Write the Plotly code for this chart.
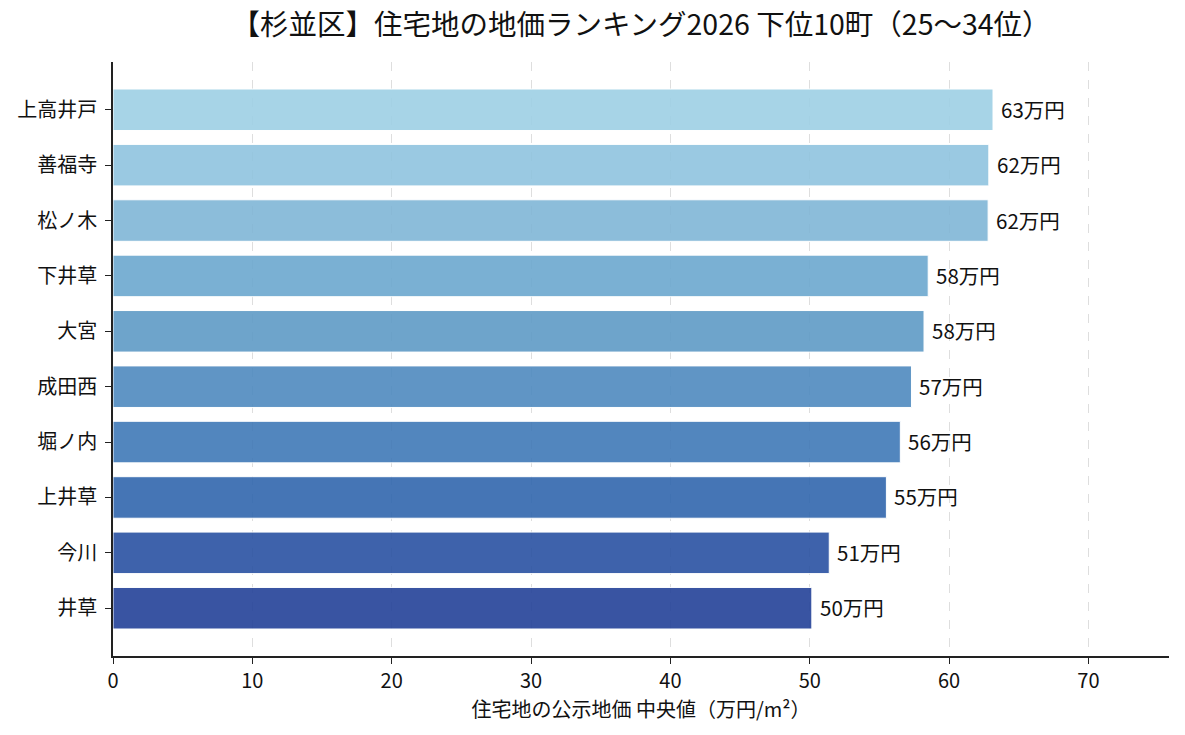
import plotly.graph_objects as go

towns = ["上高井戸", "善福寺", "松ノ木", "下井草", "大宮", "成田西", "堀ノ内", "上井草", "今川", "井草"]
values = [63.15, 62.85, 62.8, 58.5, 58.2, 57.3, 56.5, 55.5, 51.4, 50.15]
labels = ["63万円", "62万円", "62万円", "58万円", "58万円", "57万円", "56万円", "55万円", "51万円", "50万円"]
x_ticks = [0, 10, 20, 30, 40, 50, 60, 70]
bar_colors = ["#9ed0e5", "#90c4df", "#80b6d6", "#6ca8cf", "#5f9bc6",
              "#4f8abf", "#4079b7", "#3167ae", "#2a52a2", "#244299"]

FONT = "Noto Sans CJK JP"
title = "【杉並区】住宅地の地価ランキング2026 下位10町（25～34位）"
x_title = "住宅地の公示地価 中央値（万円/m²）"

fig = go.Figure()
fig.add_trace(go.Bar(
    x=values, y=towns, orientation="h", width=0.75,
    marker=dict(color=bar_colors, opacity=0.9, line=dict(color="white", width=1)),
    hoverinfo="x+y", showlegend=False,
))

for v, t, lab in zip(values, towns, labels):
    fig.add_annotation(x=v, y=t, text=lab, showarrow=False, xanchor="left",
                       yanchor="middle", xshift=6, yshift=1,
                       font=dict(family=FONT, size=20.5, color="#111111"))

n = len(towns)
pad = (n - 1 + 0.75) * 0.05
fig.update_layout(
    width=1185, height=735,
    margin=dict(l=113, r=16, t=62, b=79),
    paper_bgcolor="white", plot_bgcolor="white",
    font=dict(family=FONT, color="#111111"),
    title=dict(text=title, x=(113 + 1169) / 2 / 1185, xanchor="center",
               y=1 - 25 / 735, yanchor="middle",
               font=dict(family=FONT, size=28.5, color="#111111")),
    xaxis=dict(
        range=[0, max(values) * 1.2], tickvals=x_ticks,
        showgrid=True, gridcolor="#dedede", griddash="dash", gridwidth=1,
        zeroline=False, showline=True, linecolor="#222222", linewidth=1.5,
        ticks="outside", ticklen=6, tickwidth=1.2, tickcolor="#222222",
        tickfont=dict(family=FONT, size=20, color="#111111"),
        ticklabelstandoff=0,
        title=dict(text=x_title, font=dict(family=FONT, size=20, color="#111111"), standoff=3),
    ),
    yaxis=dict(
        type="category", categoryorder="array", categoryarray=towns,
        range=[n - 1 + 0.375 + pad, -0.375 - pad],
        showgrid=False, zeroline=False, showline=True, linecolor="#222222", linewidth=1.5,
        ticks="outside", ticklen=6, tickwidth=1.2, tickcolor="#222222",
        tickfont=dict(family=FONT, size=20, color="#111111"),
        ticklabelstandoff=4,
    ),
)

fig.write_html("out.html")
